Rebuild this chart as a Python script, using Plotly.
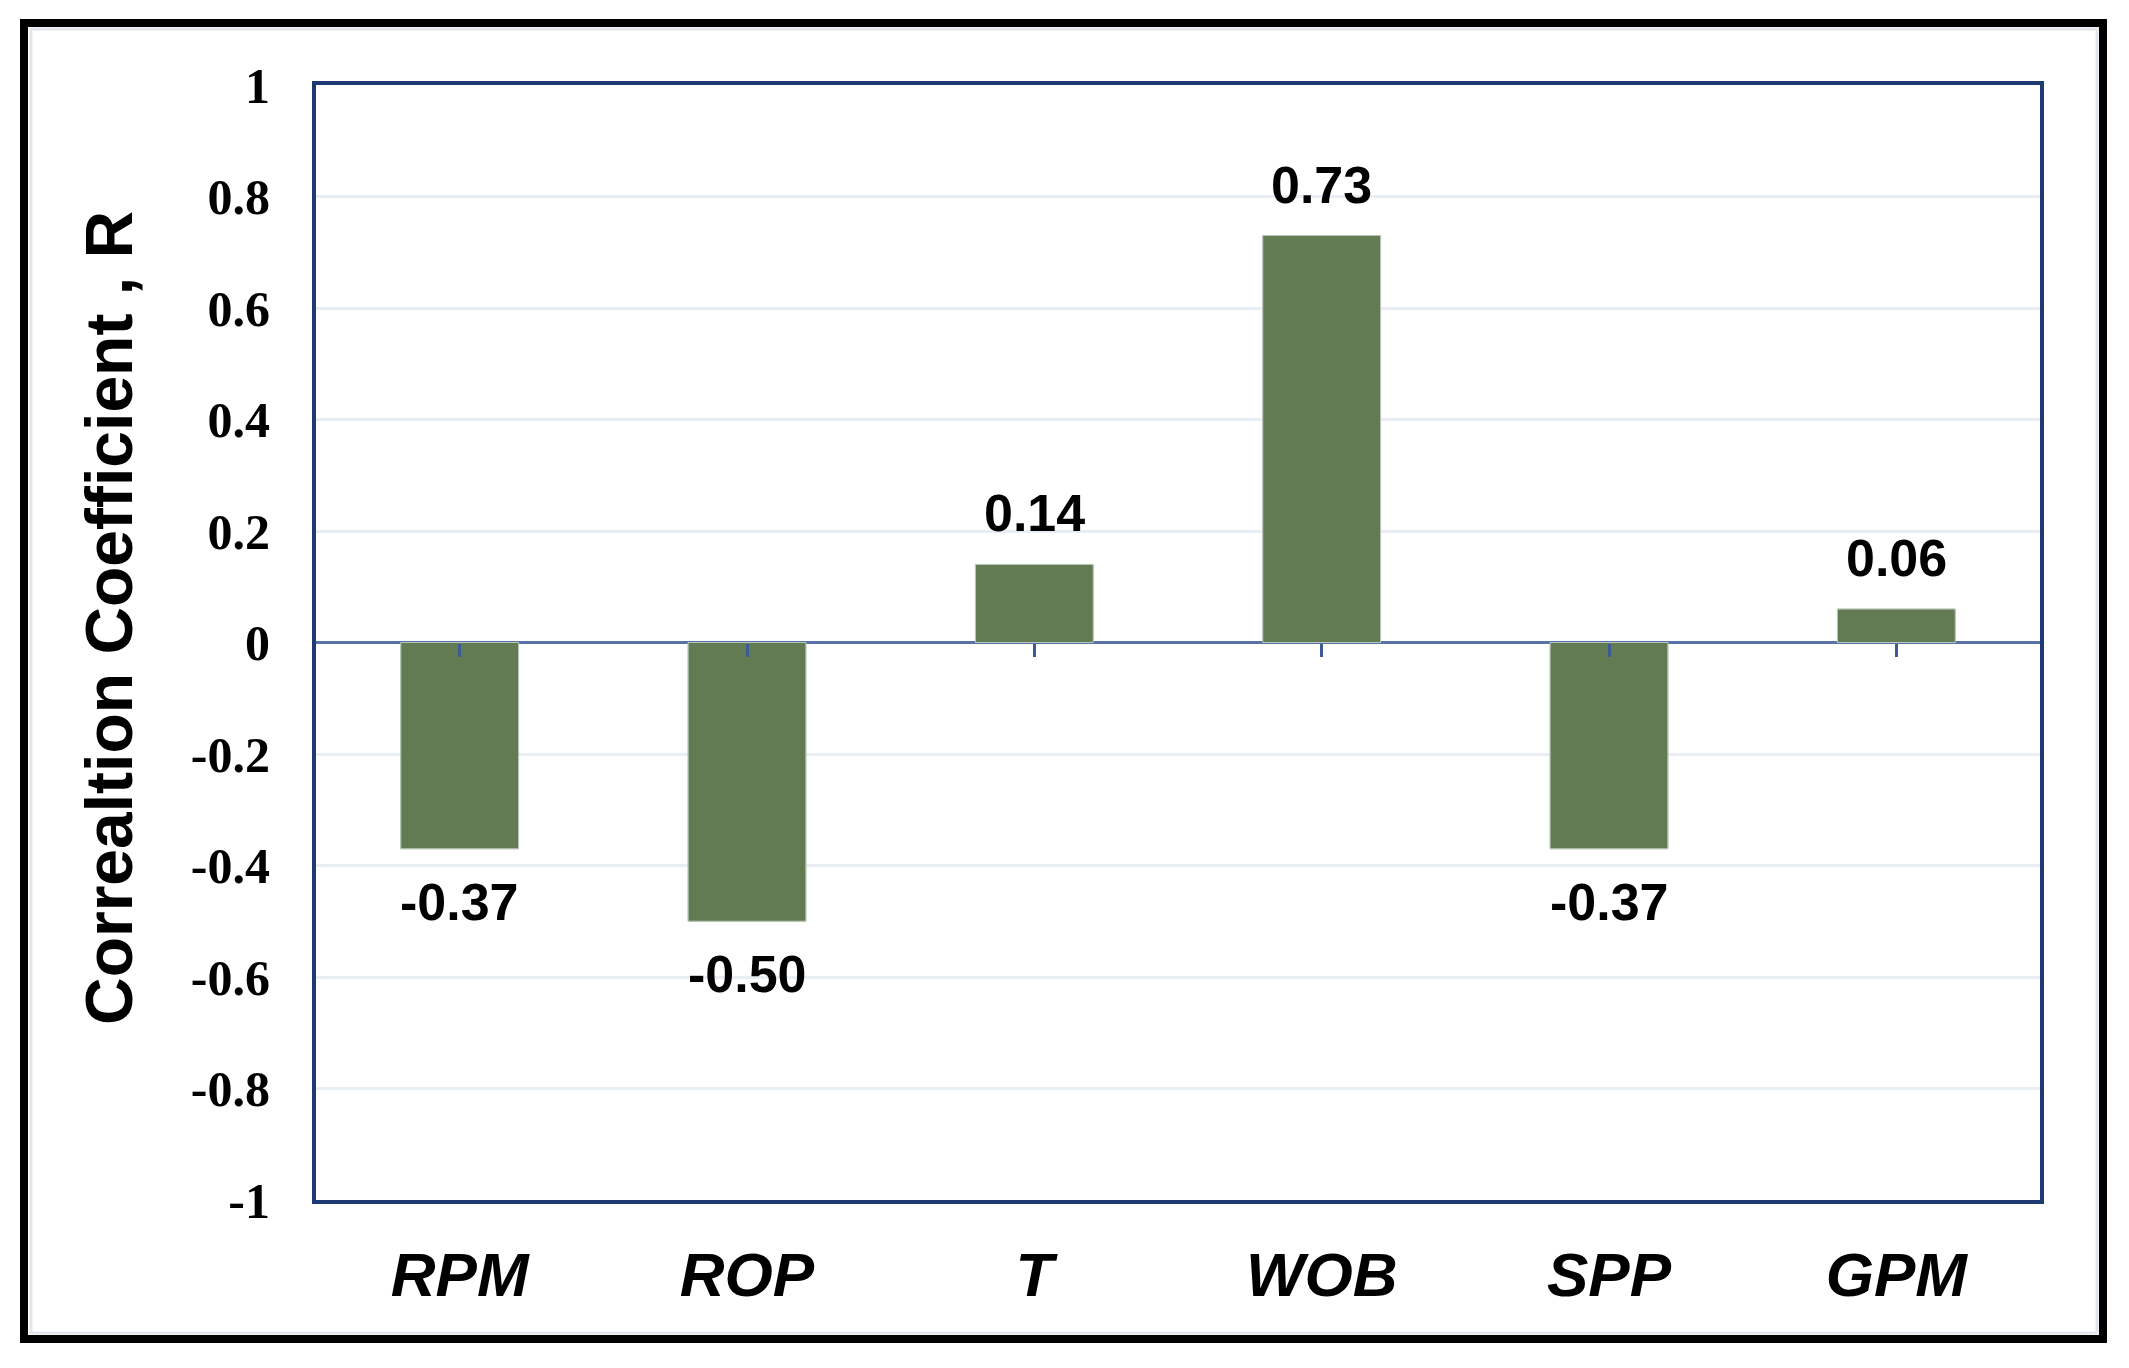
import plotly.graph_objects as go

categories = ["RPM", "ROP", "T", "WOB", "SPP", "GPM"]
values = [-0.37, -0.50, 0.14, 0.73, -0.37, 0.06]
value_labels = ["-0.37", "-0.50", "0.14", "0.73", "-0.37", "0.06"]
y_tickvals = [1, 0.8, 0.6, 0.4, 0.2, 0, -0.2, -0.4, -0.6, -0.8, -1]
y_ticktext = ["1", "0.8", "0.6", "0.4", "0.2", "0", "-0.2", "-0.4", "-0.6", "-0.8", "-1"]
y_title = "Correaltion Coefficient , R"

OFF = 8  # default body margin of the html page
W, H = 2129 - OFF, 1368 - OFF
L, R, T, B = 316 - OFF, 2040 - OFF, 85 - OFF, 1200 - OFF
pw, ph = R - L, B - T


def px(x):
    return (x - OFF - L) / pw


def py(y):
    return (B - (y - OFF)) / ph


BAR = "#637B52"
NAVY = "#1F3A73"

fig = go.Figure()
fig.add_trace(go.Bar(
    x=categories, y=values,
    marker=dict(color=BAR, line=dict(color="#8DA07E", width=1)),
    hoverinfo="skip", showlegend=False,
))
# invisible copy used to draw the small ticks on the zero line
fig.add_trace(go.Bar(
    x=categories, y=values, xaxis="x2",
    marker=dict(color="rgba(0,0,0,0)"),
    hoverinfo="skip", showlegend=False,
))

for c, v, t in zip(categories, values, value_labels):
    fig.add_annotation(
        x=c, y=v, text=t, showarrow=False,
        yanchor="bottom" if v >= 0 else "top",
        yshift=20 if v >= 0 else -22,
        font=dict(family="Liberation Sans", size=52, color="black", weight="bold"),
    )

fig.add_annotation(
    xref="paper", yref="paper", x=px(109), y=py(618),
    text=y_title, textangle=-90, showarrow=False,
    xanchor="center", yanchor="middle",
    font=dict(family="Liberation Sans", size=66, color="black", weight="bold"),
)

fig.update_layout(
    width=W, height=H,
    margin=dict(l=L, r=W - R, t=T, b=H - B, autoexpand=False),
    paper_bgcolor="white", plot_bgcolor="white",
    bargap=0.59,
    xaxis=dict(
        type="category", categoryorder="array", categoryarray=categories,
        showline=True, linecolor=NAVY, linewidth=4, mirror=True,
        ticks="", showgrid=False,
        tickfont=dict(family="Liberation Sans", size=62, color="black",
                      weight="bold", style="italic"),
        ticklabelstandoff=18,
    ),
    xaxis2=dict(
        type="category", categoryorder="array", categoryarray=categories,
        overlaying="x", anchor="free", position=0.5, side="bottom",
        showline=False, showgrid=False, showticklabels=False,
        ticks="outside", ticklen=13, tickwidth=3, tickcolor="#3E5A94",
    ),
    yaxis=dict(
        range=[-1, 1], tickvals=y_tickvals, ticktext=y_ticktext,
        showline=True, linecolor=NAVY, linewidth=4, mirror=True,
        showgrid=True, gridcolor="#E9EEF5", gridwidth=3,
        zeroline=True, zerolinecolor="#5873A8", zerolinewidth=3,
        ticks="",
        tickfont=dict(family="Liberation Serif", size=50, color="black", weight="bold"),
        ticklabelstandoff=32,
    ),
    shapes=[
        dict(type="rect", xref="paper", yref="paper",
             x0=px(31), x1=px(2097), y0=py(1333), y1=py(29),
             line=dict(color="#E2E7EE", width=3), layer="below"),
        dict(type="rect", xref="paper", yref="paper",
             x0=px(24), x1=px(2103), y0=py(1339), y1=py(23),
             line=dict(color="black", width=8), layer="above"),
    ],
)

fig.write_html("out.html")
